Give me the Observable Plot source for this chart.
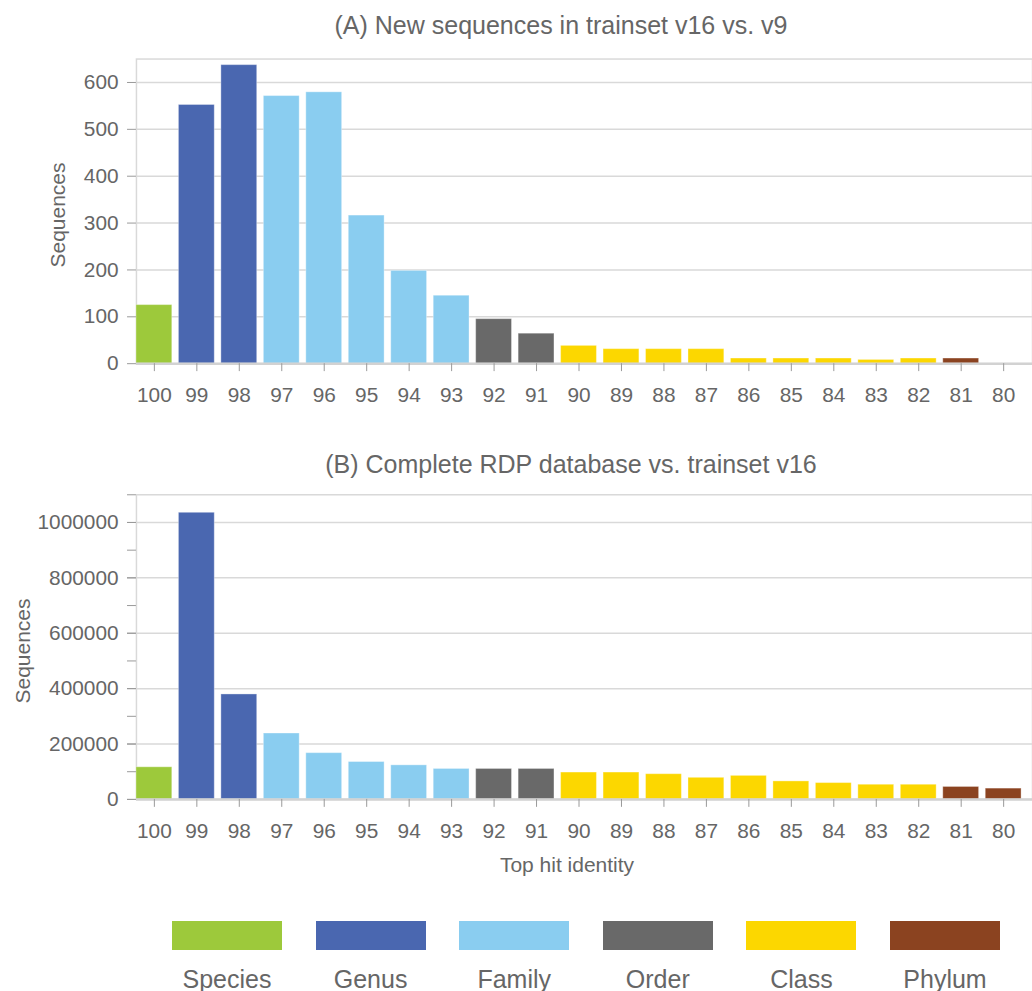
<!DOCTYPE html>
<html>
<head>
<meta charset="utf-8">
<script src="https://cdn.jsdelivr.net/npm/d3@7"></script>
<script src="https://cdn.jsdelivr.net/npm/@observablehq/plot@0.6"></script>
<style>
  html, body { margin: 0; padding: 0; background: #fff; overflow: hidden; }
  #wrap { position: relative; width: 1032px; height: 991px; overflow: hidden; font-family: "Liberation Sans", Arial, sans-serif; color: #666; }
  .abs { position: absolute; white-space: nowrap; }
  .title { font-size: 25px; transform: translateX(-50%); }
  .ylab { font-size: 21px; transform: translate(-50%, -50%) rotate(-90deg); }
  .xlab { font-size: 21px; transform: translateX(-50%); }
  .panel { position: absolute; left: 0; }
  .legsw { position: absolute; width: 110px; height: 29px; }
  .legtx { position: absolute; width: 110px; text-align: center; font-size: 25px; }
</style>
</head>
<body>
<div id="wrap"></div>
<script>
// ---- data ----
const identity = ["100","99","98","97","96","95","94","93","92","91","90","89","88","87","86","85","84","83","82","81","80"];
const ranks = ["Species","Genus","Family","Order","Class","Phylum"];
const rankColors = ["#9dc93b","#4a67b0","#8acdf0","#696969","#fcd700","#8b4320"];
const rankOfIdentity = ["Species","Genus","Genus","Family","Family","Family","Family","Family","Order","Order",
  "Class","Class","Class","Class","Class","Class","Class","Class","Class","Phylum","Phylum"];
const valuesA = [125, 552, 637, 571, 579, 316, 198, 145, 95, 64, 38, 31, 31, 31, 11, 11, 11, 8, 11, 11, 0];
const valuesB = [116000, 1035000, 379000, 238000, 167000, 135000, 123000, 110000, 110000, 110000,
  97000, 97000, 91000, 78000, 85000, 65000, 59000, 53000, 53000, 45000, 39000];
const titleA = "(A) New sequences in trainset v16 vs. v9";
const titleB = "(B) Complete RDP database vs. trainset v16";
const yLabel = "Sequences";
const xLabel = "Top hit identity";
const ticksA = [0,100,200,300,400,500,600];
const ticksB = [0,200000,400000,600000,800000,1000000];
const minorTicksB = [0,100000,200000,300000,400000,500000,600000,700000,800000,900000,1000000,1100000];

const dataA = identity.map((id, i) => ({id, v: valuesA[i], rank: rankOfIdentity[i]}));
const dataB = identity.map((id, i) => ({id, v: valuesB[i], rank: rankOfIdentity[i]}));

const wrap = document.getElementById("wrap");
const font = '"Liberation Sans", Arial, sans-serif';

function panel(data, yMax, ticks, minor, top, height, mTop, mBottom) {
  const marks = [
    Plot.gridY(ticks.filter(t => t > 0), {stroke: "#d9d9d9", strokeOpacity: 1, strokeWidth: 1.5}),
    Plot.frame({stroke: "#d9d9d9", strokeWidth: 1.5}),
    Plot.barY(data, {x: "id", y: "v", fill: "rank", stroke: "white", strokeOpacity: 0.35, strokeWidth: 1}),
    Plot.ruleY([0], {stroke: "#d2d2d2", strokeWidth: 2.5}),
  ];
  if (minor) marks.push(Plot.axisY({ticks: minor, tickSize: 9, tickFormat: () => "", stroke: "#999", label: null}));
  marks.push(Plot.axisY({ticks, tickSize: 9, tickPadding: 9, tickFormat: d3.format("d"), stroke: "#999", label: null}));
  marks.push(Plot.axisX({tickSize: 8, tickPadding: 16, stroke: "#999", label: null}));
  const svg = Plot.plot({
    width: 1040, height,
    marginLeft: 137, marginRight: 0, marginTop: mTop, marginBottom: mBottom,
    style: {fontFamily: font, fontSize: "21px", color: "#666", background: "transparent", overflow: "visible"},
    x: {domain: identity, range: [137, 1029], paddingInner: 0.156, paddingOuter: 0, round: false, label: null},
    y: {domain: [0, yMax], label: null},
    color: {domain: ranks, range: rankColors},
    marks
  });
  svg.classList.add("panel");
  svg.style.top = top + "px";
  wrap.appendChild(svg);
}

panel(dataA, 650, ticksA, null, 0, 420, 59, 54);
panel(dataB, 1100000, ticksB, minorTicksB, 440, 450, 54.7, 88.3);

function addText(cls, text, x, y) {
  const d = document.createElement("div");
  d.className = "abs " + cls;
  d.textContent = text;
  d.style.left = x + "px";
  d.style.top = y + "px";
  wrap.appendChild(d);
}
addText("title", titleA, 561, 11);
addText("title", titleB, 571, 450);
addText("ylab", yLabel, 58, 215);
addText("ylab", yLabel, 23, 651);
addText("xlab", xLabel, 567, 853);

ranks.forEach((r, i) => {
  const x = 172 + i * 143.6;
  const sw = document.createElement("div");
  sw.className = "legsw";
  sw.style.left = x + "px";
  sw.style.top = "921px";
  sw.style.background = rankColors[i];
  wrap.appendChild(sw);
  const tx = document.createElement("div");
  tx.className = "legtx";
  tx.style.left = x + "px";
  tx.style.top = "965px";
  tx.textContent = r;
  wrap.appendChild(tx);
});
</script>
</body>
</html>
